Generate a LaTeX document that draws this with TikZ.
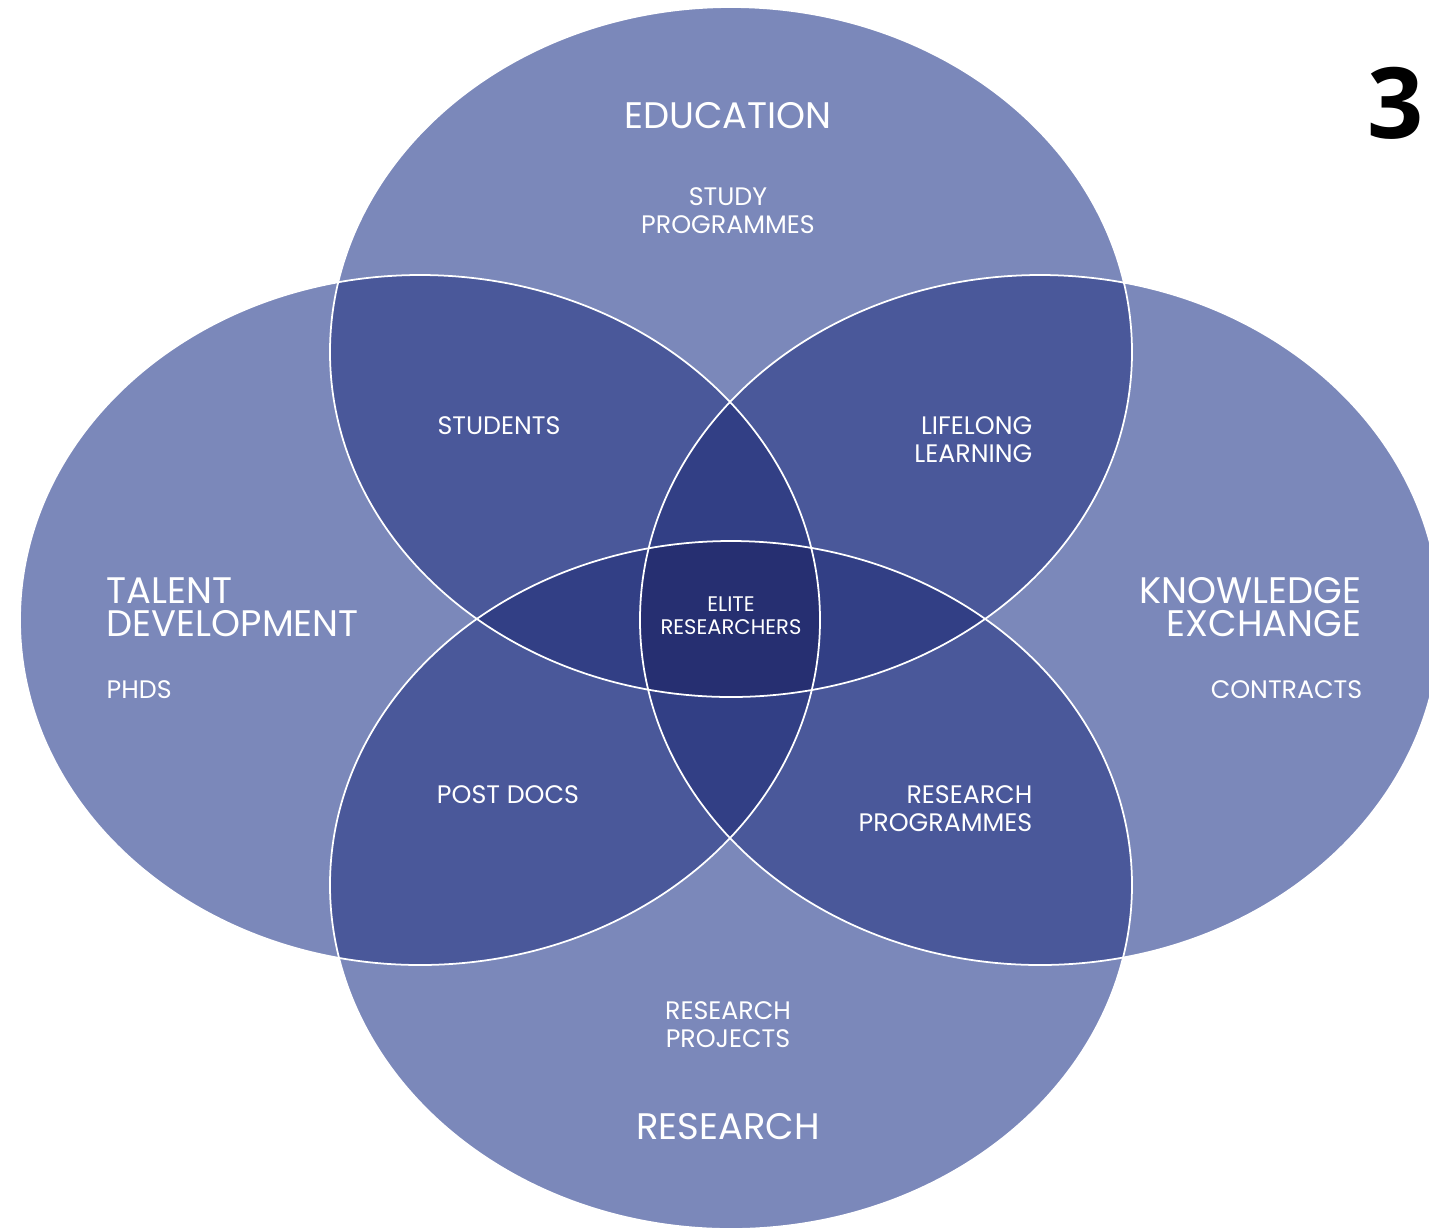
\documentclass[tikz,border=0pt]{standalone}
\usepackage{fontspec}
\setmainfont{Poppins}
\newfontfamily\digitfont{Open Sans}
\definecolor{onefill}{HTML}{7B88BA}
\definecolor{twofill}{HTML}{4A589A}
\definecolor{threefill}{HTML}{323F85}
\definecolor{fourfill}{HTML}{262F71}

% the four sets
\def\setEdu{(731,352) ellipse (401 and 345)}
\def\setTal{(420,620) ellipse (400 and 345)}
\def\setKno{(1040,620) ellipse (400 and 345)}
\def\setRes{(731,885) ellipse (401 and 344)}

\begin{document}
\begin{tikzpicture}[line cap=round,line join=round,x=0.01cm,y=-0.01cm,
	big/.style={text=white,inner sep=0pt,font=\fontsize{10.5}{9.4}\selectfont},
	small/.style={text=white,inner sep=0pt,font=\fontsize{7.2}{8}\selectfont},
	tiny/.style={text=white,inner sep=0pt,font=\fontsize{6}{6.6}\selectfont}]
	\useasboundingbox (0,0) rectangle (1429,1229);
	\fill [onefill] \setEdu;
	\fill [onefill] \setTal;
	\fill [onefill] \setKno;
	\fill [onefill] \setRes;
	% two sets
	\begin{scope}
		\clip \setEdu;
		\fill [twofill] \setTal;
		\fill [twofill] \setKno;
		\fill [twofill] \setRes;
	\end{scope}
	\begin{scope}
		\clip \setTal;
		\fill [twofill] \setKno;
		\fill [twofill] \setRes;
	\end{scope}
	\begin{scope}
		\clip \setKno;
		\fill [twofill] \setRes;
	\end{scope}
	% three sets
	\begin{scope}
		\clip \setEdu;
		\clip \setTal;
		\fill [threefill] \setKno;
		\fill [threefill] \setRes;
	\end{scope}
	\begin{scope}
		\clip \setEdu;
		\clip \setKno;
		\fill [threefill] \setRes;
	\end{scope}
	\begin{scope}
		\clip \setTal;
		\clip \setKno;
		\fill [threefill] \setRes;
	\end{scope}
	% all four
	\begin{scope}
		\clip \setEdu;
		\clip \setTal;
		\clip \setKno;
		\fill [fourfill] \setRes;
	\end{scope}
	\draw [white,line width=0.5pt] \setEdu;
	\draw [white,line width=0.5pt] \setTal;
	\draw [white,line width=0.5pt] \setKno;
	\draw [white,line width=0.5pt] \setRes;

	\node [big] (educ) at (728,116) {EDUCATION};
	\node [small,align=center] (study) at (728,211) {STUDY\\PROGRAMMES};
	\node [small] (students) at (499,426) {STUDENTS};
	\node [small,align=right,anchor=east] (lifelong) at (1033,440) {LIFELONG\\LEARNING};
	\node [big,align=left,anchor=west] (talent) at (106,607) {TALENT\\DEVELOPMENT};
	\node [small,anchor=west] (phds) at (106,690) {PHDS};
	\node [big,align=right,anchor=east] (knowl) at (1362,607) {KNOWLEDGE\\EXCHANGE};
	\node [small,anchor=east] (contracts) at (1363,690) {CONTRACTS};
	\node [tiny,align=center] (elite) at (731,616) {ELITE\\RESEARCHERS};
	\node [small] (postdocs) at (508,795) {POST DOCS};
	\node [small,align=right,anchor=east] (resprog) at (1033,809) {RESEARCH\\PROGRAMMES};
	\node [small,align=center] (resproj) at (728,1025) {RESEARCH\\PROJECTS};
	\node [big] (research) at (728,1127) {RESEARCH};
	\node [inner sep=0pt,font=\digitfont\bfseries\fontsize{28}{30}\selectfont] (number) at (1396,103) {3};
\end{tikzpicture}
\end{document}
